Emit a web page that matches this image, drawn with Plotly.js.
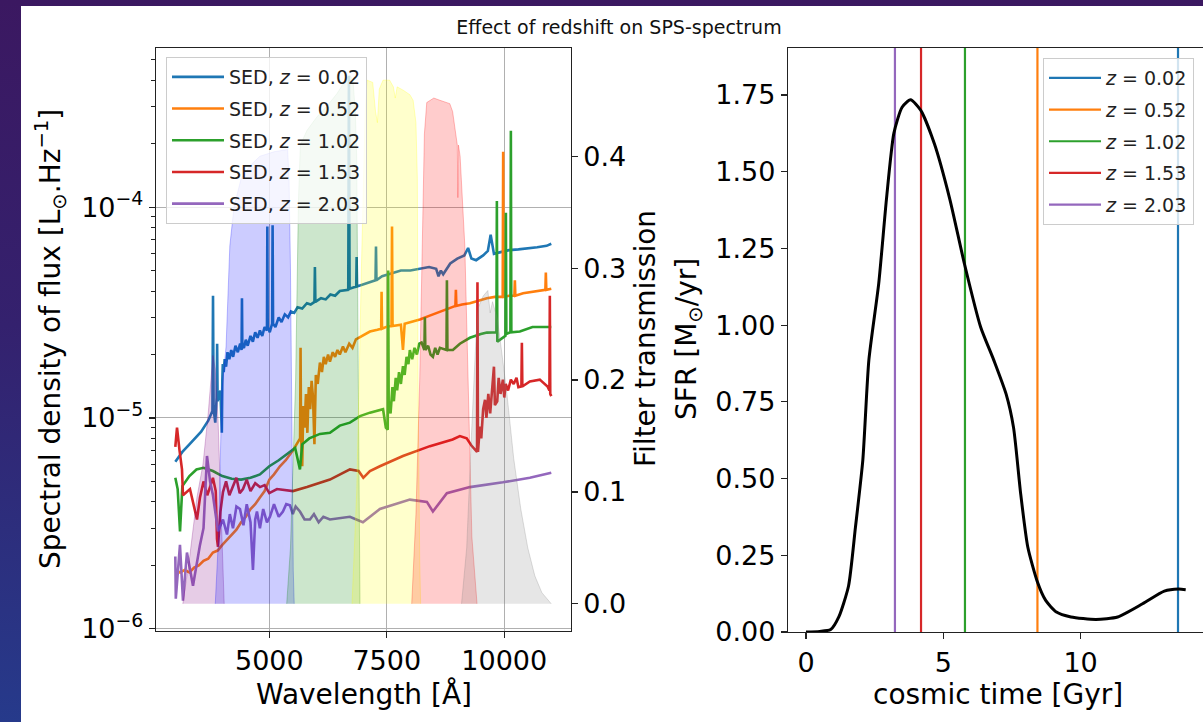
<!DOCTYPE html>
<html><head><meta charset="utf-8">
<script src="https://cdn.plot.ly/plotly-3.0.1.min.js"></script>
<style>
html,body{margin:0;padding:0;width:1203px;height:722px;overflow:hidden;
background:linear-gradient(180deg,#3b1861 0%,#34216e 45%,#263a8b 100%);}
#chart{position:absolute;left:21px;top:6px;width:1182px;height:716px;}
</style></head><body><div id="chart"></div><script>
// ---------- DATA ----------
const FLUX_UNIT = 1e-6; // SED fluxes below are [wavelength Å, flux in 1e-6 L_sun/Hz]
const sedLabels = ['SED, <i>z</i> = 0.02','SED, <i>z</i> = 0.52','SED, <i>z</i> = 1.02','SED, <i>z</i> = 1.53','SED, <i>z</i> = 2.03'];
const zLabels = ['<i>z</i> = 0.02','<i>z</i> = 0.52','<i>z</i> = 1.02','<i>z</i> = 1.53','<i>z</i> = 2.03'];
const zCosmicTime = [13.55, 8.43, 5.79, 4.19, 3.24]; // Gyr

const sed_z002 = [[3000,6.2],[3150,6.9],[3300,7.5],[3400,7.9],[3550,8.6],[3700,9.7],[3790,10.8],[3802,38],[3815,11],[3850,9.5],[3880,12.5],[3890,22.5],[3900,12],[3960,13.5],[3990,8.5],[4000,15],[4010,18],[4030,16.5],[4050,19],[4080,17.5],[4110,20.5],[4150,19],[4190,21],[4230,19.5],[4280,22],[4330,20.5],[4380,22.5],[4410,21],[4418,37],[4426,22],[4460,21.5],[4500,23.5],[4540,22],[4600,24.5],[4650,23],[4700,25.5],[4750,24],[4800,26],[4850,24.5],[4900,27],[4950,26],[4958,81],[4966,27],[5010,25.5],[5060,28],[5070,82],[5080,28],[5130,27],[5200,30],[5260,28.5],[5330,31],[5400,30],[5460,32],[5530,31.5],[5600,33.5],[5700,33],[5800,35],[5880,34.5],[5960,35.5],[5970,52],[5980,35.5],[6100,37],[6200,36.5],[6300,38.5],[6400,38],[6500,40],[6680,40.5],[6694,420],[6708,41],[6850,42],[6858,58],[6866,42],[7000,43],[7150,44.5],[7260,45],[7270,65],[7280,45],[7400,47],[7600,48.5],[7800,50],[8000,50],[8200,51],[8400,52],[8550,51],[8600,47],[8650,50],[8700,48],[8850,54],[9000,57],[9150,59],[9230,64],[9300,57],[9400,56],[9550,59],[9650,62],[9710,74],[9780,60],[9900,61],[10100,62.5],[10300,63],[10500,63.5],[10700,64.5],[10900,65.5],[11000,67]];

const sed_z052 = [[3000,1.9],[3100,1.85],[3200,1.9],[3300,1.85],[3400,1.95],[3500,2.0],[3600,2.1],[3700,2.15],[3800,2.3],[3900,2.35],[4000,2.5],[4100,2.65],[4200,2.8],[4300,2.95],[4400,3.2],[4500,3.4],[4600,3.7],[4700,3.9],[4800,4.2],[4900,4.5],[5000,5.1],[5100,5.4],[5226,5.9],[5350,6.3],[5500,7.0],[5620,7.8],[5655,8.0],[5665,21.5],[5675,8.5],[5700,5.9],[5722,11.4],[5750,9],[5780,13],[5810,8.5],[5840,14],[5870,11],[5900,15],[5930,12.5],[5960,7.5],[5990,16],[6030,14.5],[6077,18.3],[6120,16.5],[6160,19.5],[6200,18],[6250,20],[6290,18.5],[6350,20.5],[6400,19.5],[6450,21],[6500,20],[6567,21.8],[6620,20.5],[6700,22.5],[6770,21.5],[6843,23.6],[7000,24.7],[7141,25.7],[7300,26.2],[7380,26.5],[7389,39.7],[7398,26.5],[7500,27.1],[7600,27.3],[7611,81],[7622,27.3],[7800,27.7],[7844,21],[7880,28],[8050,28.6],[8204,29.3],[8400,30.5],[8630,32],[8960,34],[8970,40.5],[8980,34],[9100,34.5],[9268,35],[9450,36],[9630,37],[9800,37.5],[9966,37.5],[9976,183],[9986,37.5],[10100,38],[10215,38],[10225,45],[10235,38],[10400,39],[10600,39.7],[10750,40],[10874,40.5],[10884,49],[10894,40.5],[11000,41]];

const sed_z102 = [[3000,5.2],[3050,4.6],[3100,2.9],[3150,4.75],[3300,5.3],[3450,5.7],[3600,5.8],[3800,5.6],[4000,5.3],[4200,5.15],[4400,5.1],[4600,5.2],[4800,5.4],[5000,5.9],[5200,6.3],[5400,6.8],[5550,7.2],[5652,5.7],[5700,7.5],[5850,8.0],[6077,8.4],[6290,8.5],[6500,9.2],[6715,9.5],[6930,10.2],[7141,10.6],[7300,10.8],[7420,11],[7480,9],[7520,8.8],[7529,50],[7540,12],[7580,10.5],[7620,14],[7650,12],[7690,15.5],[7720,13.5],[7760,16.5],[7800,14.5],[7844,17.6],[7880,16],[7920,19.5],[7960,18],[7990,21],[8040,19],[8090,21.5],[8140,20],[8190,22.5],[8240,22.8],[8300,21],[8310,30],[8320,21],[8380,22],[8430,20],[8481,19.5],[8530,21.5],[8580,20],[8630,21.5],[8770,21],[8779,45],[8790,21],[8906,21],[9055,22.5],[9268,24],[9500,25],[9630,25.4],[9832,25.5],[9842,107],[9852,23],[10024,24.5],[10034,94],[10044,25],[10130,25.5],[10140,230],[10150,25.5],[10331,25.7],[10600,27],[11000,27]];

const sed_z153 = [[3000,7.3],[3036,9.0],[3090,7.0],[3142,5.7],[3163,4.3],[3312,4.6],[3461,3.3],[3525,4.2],[3600,5.0],[3680,4.3],[3738,4.7],[3800,5.2],[3860,4.5],[3887,2.67],[3908,2.45],[3960,3.6],[4014,4.45],[4080,5.0],[4150,4.3],[4227,4.7],[4300,5.2],[4370,4.4],[4440,4.6],[4520,5.1],[4600,4.5],[4700,4.9],[4801,4.7],[4900,4.8],[5000,4.4],[5163,4.6],[5503,4.5],[5801,4.7],[6077,4.9],[6290,5.1],[6715,5.7],[6900,5.6],[7000,5.2],[7141,5.6],[7353,5.9],[7843,6.6],[8417,7.35],[8630,7.6],[8900,7.9],[9055,8.2],[9200,8.0],[9300,7.4],[9420,6.9],[9429,44],[9440,6.9],[9480,9.1],[9510,8],[9550,11],[9590,12.2],[9620,10],[9660,13],[9700,10.5],[9740,14],[9780,17.5],[9800,11.5],[9850,12],[9880,15.5],[9920,13],[9970,15.2],[10000,12.5],[10030,14.5],[10080,13.5],[10140,15.2],[10200,14.5],[10260,15.5],[10300,14],[10364,14.1],[10374,22.7],[10384,14.1],[10544,14.9],[10756,15.2],[10920,14.1],[10960,13.5],[10969,38],[10978,13],[11000,12.7]];

const sed_z203 = [[3000,2.2],[3010,1.39],[3099,2.5],[3163,1.36],[3248,2.3],[3376,1.6],[3525,2.5],[3600,3.0],[3674,6.6],[3740,5.0],[3801,4.3],[3908,2.9],[4014,3.3],[4100,2.8],[4160,3.5],[4227,3.0],[4300,3.8],[4376,3.7],[4450,3.1],[4520,3.9],[4600,3.2],[4652,1.9],[4700,3.3],[4737,3.6],[4800,3.0],[4870,3.7],[4950,3.2],[5014,3.4],[5100,3.9],[5200,3.4],[5290,3.6],[5360,3.9],[5439,3.85],[5500,3.5],[5560,3.8],[5652,3.6],[5750,3.3],[5865,3.3],[5950,3.5],[6050,3.2],[6150,3.4],[6290,3.3],[6715,3.4],[6992,3.2],[7353,3.7],[7991,4.1],[8353,4.0],[8481,3.6],[8778,4.4],[9268,4.7],[9970,4.95],[10544,5.2],[11000,5.5]];

// filter transmission curves
const filt_u_lam = [3160,3300,3460,3590,3700,3800,3850,3910,3960,3995,4040];
const filt_u_T   = [0,0.04,0.095,0.125,0.17,0.222,0.21,0.164,0.1,0.05,0];
const filt_g_lam = [3850,3920,3990,4080,4160,4250,4400,4600,4800,5100,5390,5420,5450,5480,5510,5530];
const filt_g_T   = [0,0.06,0.19,0.23,0.32,0.355,0.38,0.392,0.4,0.404,0.406,0.38,0.3,0.15,0.03,0];
const filt_r_lam = [5370,5450,5560,5620,5660,5800,6010,6230,6440,6650,6720,6780,6830,6860,6885,6910,6930];
const filt_r_T   = [0,0.05,0.2,0.36,0.41,0.423,0.435,0.445,0.456,0.47,0.472,0.468,0.44,0.4,0.25,0.08,0];
const filt_i_lam = [6760,6860,6960,7040,7080,7200,7260,7300,7340,7420,7560,7640,7680,7720,7850,7990,8060,8120,8150,8165,8200,8220];
const filt_i_T   = [0,0.1,0.3,0.44,0.468,0.466,0.44,0.43,0.46,0.468,0.468,0.462,0.452,0.462,0.459,0.455,0.45,0.43,0.38,0.2,0.04,0];
const filt_z_lam = [8030,8120,8200,8260,8300,8350,8500,8630,8840,8900,8950,9000,9012,9025,9060,9110,9160,9230,9310,9420];
const filt_z_T   = [0,0.08,0.2,0.32,0.42,0.448,0.452,0.45,0.447,0.44,0.425,0.41,0.363,0.41,0.40,0.36,0.32,0.2,0.06,0];
const filt_y_lam = [9090,9200,9300,9400,9450,9550,9650,9700,9750,9850,9900,10050,10200,10350,10500,10650,10800,11000];
const filt_y_T   = [0,0.05,0.15,0.24,0.265,0.275,0.28,0.26,0.27,0.255,0.24,0.19,0.13,0.085,0.05,0.025,0.01,0];

// star formation history
const sfh_t   = [0,0.5,0.9,1.2,1.55,1.8,2.07,2.29,2.65,2.93,3.2,3.5,3.81,4.18,4.68,5.24,5.77,6.36,6.84,7.29,7.56,7.82,8.08,8.43,8.73,9.12,9.65,10.56,11.35,12.26,13.05,13.57,13.83];
const sfh_sfr = [0,0.002,0.008,0.05,0.15,0.34,0.56,0.886,1.136,1.41,1.625,1.71,1.734,1.70,1.59,1.41,1.20,0.994,0.886,0.775,0.666,0.45,0.276,0.163,0.103,0.065,0.049,0.041,0.049,0.092,0.133,0.14,0.138];

// ticks
const logTickVals = [1e-6,1e-5,1e-4];
const logTickText = ['10<sup>−6</sup>','10<sup>−5</sup>','10<sup>−4</sup>'];
const wlTickVals = [5000,7500,10000];
const wlTickText = ['5000','7500','10000'];
const trTickVals = [0,0.1,0.2,0.3,0.4];
const trTickText = ['0.0','0.1','0.2','0.3','0.4'];
const tTickVals = [0,5,10];
const sfrTickVals = [0,0.25,0.5,0.75,1.0,1.25,1.5,1.75];

// ---------- STYLE ----------
const tab = ['#1f77b4','#ff7f0e','#2ca02c','#d62728','#9467bd'];
const filtColors = ['128,0,128','0,0,255','0,128,0','255,255,0','255,0,0','128,128,128'];
const FONT = 'DejaVu Sans';
const W = 1182, H = 716;
const fx = p => p / W, fy = p => 1 - p / H;
const yRangeSFR = [0, 1.904];

const seds = [sed_z002, sed_z052, sed_z102, sed_z153, sed_z203];
const filters = [[filt_u_lam,filt_u_T],[filt_g_lam,filt_g_T],[filt_r_lam,filt_r_T],[filt_i_lam,filt_i_T],[filt_z_lam,filt_z_T],[filt_y_lam,filt_y_T]];

const traces = [];
seds.forEach((s,i) => traces.push({
  type:'scatter', mode:'lines', x:s.map(p=>p[0]), y:s.map(p=>p[1]*FLUX_UNIT),
  xaxis:'x', yaxis:'y', name:sedLabels[i], legend:'legend', legendgroup:'s'+i,
  line:{color:tab[i], width:2.6}
}));
filters.forEach((f,i) => traces.push({
  type:'scatter', mode:'lines', x:f[0], y:f[1], xaxis:'x', yaxis:'y2',
  fill:'tozeroy', fillcolor:'rgba('+filtColors[i]+',0.2)',
  line:{color:'rgba('+filtColors[i]+',0.25)', width:1}, showlegend:false
}));
zCosmicTime.forEach((t,i) => traces.push({
  type:'scatter', mode:'lines', x:[t,t], y:yRangeSFR, xaxis:'x2', yaxis:'y3',
  name:zLabels[i], legend:'legend2', legendgroup:'v'+i, line:{color:tab[i], width:2.2}
}));
traces.push({type:'scatter', mode:'lines', x:sfh_t, y:sfh_sfr, xaxis:'x2', yaxis:'y3',
  line:{color:'#000', width:3, shape:'spline', smoothing:0.6}, showlegend:false});

const minorLog = [];
for (let e=-6; e<=-4; e++) for (let d=2; d<=9; d++) minorLog.push(d*Math.pow(10,e));

const tickfont = {family:FONT, size:27, color:'#000'};
const axBase = {showline:true, linecolor:'#222', linewidth:1.2, ticks:'outside', ticklen:6,
  tickwidth:1.2, tickcolor:'#222', tickfont:tickfont, zeroline:false};

const layout = {
  width:W, height:H, margin:{l:0,r:0,t:0,b:0},
  paper_bgcolor:'#fff', plot_bgcolor:'#fff', showlegend:true,
  font:{family:FONT, color:'#000'},
  title:{text:'Effect of redshift on SPS-spectrum', font:{family:FONT,size:19,color:'#111'},
    xref:'container', yref:'container', x:fx(598), y:fy(21), xanchor:'center', yanchor:'middle'},
  xaxis:Object.assign({}, axBase, {domain:[fx(135),fx(549.7)], range:[2589,11413], anchor:'y',
    tickmode:'array', tickvals:wlTickVals, ticktext:wlTickText, mirror:true, showgrid:true, gridcolor:'#b0b0b0', gridwidth:1}),
  yaxis:Object.assign({}, axBase, {type:'log', domain:[fy(624.7),fy(41.7)], range:[-6.009,-3.244],
    anchor:'x', tickmode:'array', tickvals:logTickVals, ticktext:logTickText,
    showgrid:true, gridcolor:'#b0b0b0', gridwidth:1,
    minor:{tickmode:'array', tickvals:minorLog, ticks:'outside', ticklen:3.5, tickwidth:1, tickcolor:'#222', showgrid:false}}),
  yaxis2:Object.assign({}, axBase, {overlaying:'y', side:'right', anchor:'x', range:[-0.024,0.497],
    tickmode:'array', tickvals:trTickVals, ticktext:trTickText, showgrid:false}),
  xaxis2:Object.assign({}, axBase, {domain:[fx(767),1], range:[-0.655,14.46], anchor:'y3',
    tickmode:'array', tickvals:tTickVals, mirror:true, showgrid:false}),
  yaxis3:Object.assign({}, axBase, {domain:[fy(626),fy(41.7)], range:yRangeSFR, anchor:'x2',
    tickmode:'array', tickvals:sfrTickVals, tickformat:'.2f', showgrid:false}),
  legend:{x:fx(145), y:fy(51), xanchor:'left', yanchor:'top', bgcolor:'rgba(255,255,255,0.8)',
    bordercolor:'#cccccc', borderwidth:1, font:{family:FONT,size:19,color:'#222'},
    itemwidth:52, tracegroupgap:4, traceorder:'grouped'},
  legend2:{x:fx(1173), y:fy(52), xanchor:'right', yanchor:'top', bgcolor:'rgba(255,255,255,0.8)',
    bordercolor:'#cccccc', borderwidth:1, font:{family:FONT,size:19,color:'#222'},
    itemwidth:52, tracegroupgap:4, traceorder:'grouped'},
  annotations:[
    {text:'Wavelength [Å]', xref:'paper', yref:'paper', x:fx(343), y:fy(688), showarrow:false,
      xanchor:'center', yanchor:'middle', font:{family:FONT,size:28,color:'#000'}},
    {text:'cosmic time [Gyr]', xref:'paper', yref:'paper', x:fx(977), y:fy(688), showarrow:false,
      xanchor:'center', yanchor:'middle', font:{family:FONT,size:28,color:'#000'}},
    {text:'Spectral density of flux [L<sub>⊙</sub>.Hz<sup>−1</sup>]', xref:'paper', yref:'paper', x:fx(29), y:fy(333),
      textangle:-90, showarrow:false, xanchor:'center', yanchor:'middle', font:{family:FONT,size:28,color:'#000'}},
    {text:'Filter transmission', xref:'paper', yref:'paper', x:fx(624), y:fy(333),
      textangle:-90, showarrow:false, xanchor:'center', yanchor:'middle', font:{family:FONT,size:28,color:'#000'}},
    {text:'SFR [M<sub>⊙</sub>/yr]', xref:'paper', yref:'paper', x:fx(667), y:fy(333),
      textangle:-90, showarrow:false, xanchor:'center', yanchor:'middle', font:{family:FONT,size:28,color:'#000'}}
  ]
};

Plotly.newPlot('chart', traces, layout, {staticPlot:true, displayModeBar:false});
</script></body></html>
